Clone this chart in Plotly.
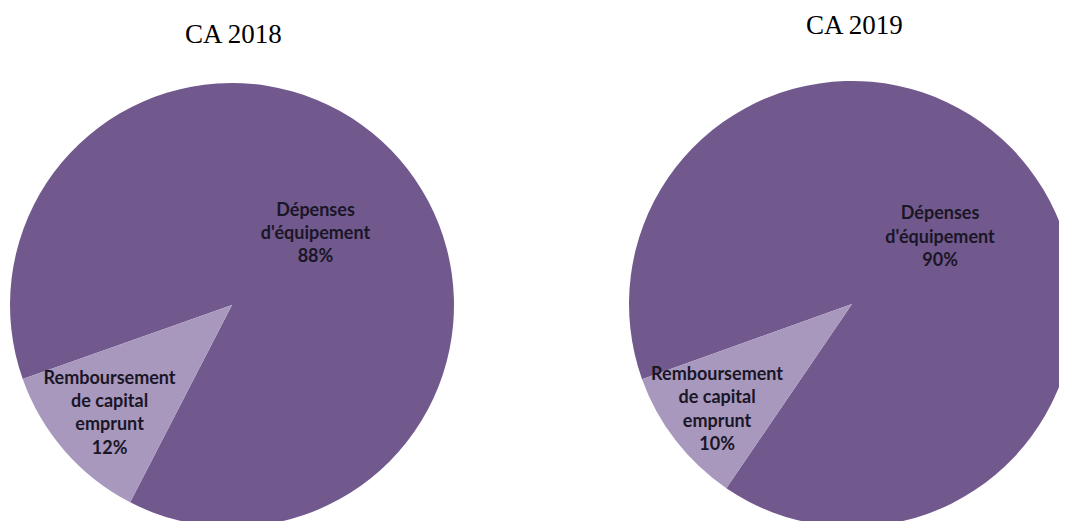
import plotly.graph_objects as go

labels = ["Dépenses<br>d'équipement", "Remboursement<br>de capital<br>emprunt"]
values_2018 = [88, 12]
values_2019 = [90, 10]
titles = ["CA 2018", "CA 2019"]
colors = ["#71598E", "#A898BE"]

W, H = 1067, 521

fig = go.Figure()

common = dict(
    labels=labels,
    sort=False,
    direction="clockwise",
    marker=dict(colors=colors, line=dict(width=0)),
    texttemplate="%{label}<br>%{percent}",
    textposition="inside",
    insidetextorientation="horizontal",
    textfont=dict(family="Lato", size=18, color="#1a1626", weight="bold"),
    showlegend=False,
    hoverinfo="label+percent",
)

fig.add_trace(go.Pie(values=values_2018, rotation=250.5,
                     domain=dict(x=[2 / W, 446 / W], y=[2 / H, 446 / H]), **common))
fig.add_trace(go.Pie(values=values_2019, rotation=250.3,
                     domain=dict(x=[621 / W, 1.0], y=[2 / H, 448 / H]), **common))

fig.add_annotation(text=titles[0], x=225 / W, y=1 - 26 / H, xref="paper", yref="paper",
                   showarrow=False, xanchor="center", yanchor="middle",
                   font=dict(family="Liberation Serif", size=27, color="#000000"))
fig.add_annotation(text=titles[1], x=846 / W, y=1.0, xref="paper", yref="paper",
                   showarrow=False, xanchor="center", yanchor="top",
                   font=dict(family="Liberation Serif", size=27, color="#000000"))

fig.update_layout(
    width=W, height=H,
    margin=dict(l=0, r=0, t=0, b=0),
    paper_bgcolor="white", plot_bgcolor="white",
    uniformtext=dict(minsize=18, mode="show"),
)

fig.write_html("out.html")
